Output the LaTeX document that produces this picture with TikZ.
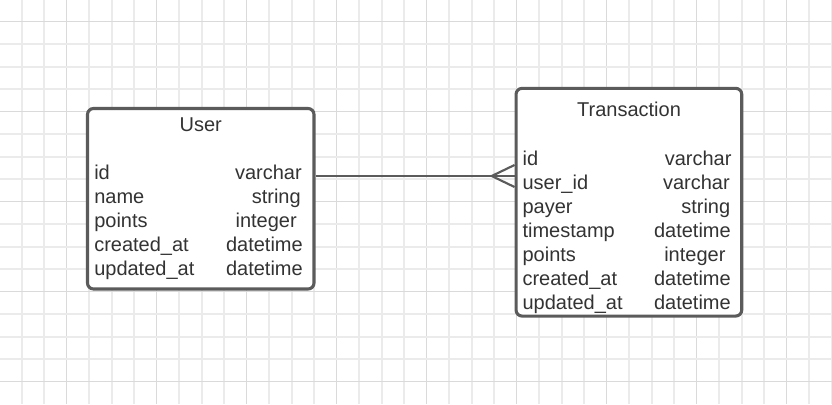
\documentclass[tikz,border=0pt]{standalone}
\usepackage{fontspec}
\setmainfont{Liberation Sans}
\definecolor{minorgrid}{HTML}{EBEBEB}
\definecolor{majorgrid}{HTML}{DADADA}
\definecolor{boxline}{HTML}{5B5B5B}
\definecolor{txt}{HTML}{333333}
\begin{document}
\begin{tikzpicture}[x=0.75pt,y=-0.75pt,
  tbl/.style={draw=boxline, line width=2.3pt, rounded corners=4.5pt, fill=white, inner sep=0pt},
  lbl/.style={inner sep=0pt, text=txt, font=\fontsize{15}{18}\selectfont},
  conn/.style={draw=boxline, line width=1.6pt}]
\useasboundingbox (0,0) rectangle (832,404);
\fill[white] (0,0) rectangle (832,404);
% grid
\foreach \k in {1,...,37} {
  \pgfmathsetmacro{\xx}{22.5*\k-0.8}
  \pgfmathtruncatemacro{\m}{mod(\k,4)}
  \ifnum\m=3
    \draw[majorgrid, line width=0.75pt] (\xx,0) -- (\xx,404);
  \else
    \draw[minorgrid, line width=1.2pt] (\xx,0) -- (\xx,404);
  \fi
}
\foreach \k in {1,...,17} {
  \pgfmathsetmacro{\yy}{22.5*\k-0.8}
  \pgfmathtruncatemacro{\m}{mod(\k,4)}
  \ifnum\m=1
    \draw[majorgrid, line width=0.75pt] (0,\yy) -- (832,\yy);
  \else
    \draw[minorgrid, line width=1.2pt] (0,\yy) -- (832,\yy);
  \fi
}
% boxes
\node[tbl, minimum width=226.5*0.75pt, minimum height=180.5*0.75pt] (user) at (200.75,198.75) {};
\node[tbl, minimum width=225.7*0.75pt, minimum height=227.7*0.75pt] (trans) at (628.9,202.2) {};
% connector
\coordinate (cf) at (491.7,176);
\draw[conn] (user.east |- cf) -- (trans.west |- cf);
\draw[conn] ([yshift=-11*0.75pt]trans.west |- cf) -- (cf) -- ([yshift=11*0.75pt]trans.west |- cf);
% User text
\node[lbl, anchor=base] (ut) at (200.8,131) {User};
\node[lbl, anchor=base west] (u1) at (94,179) {id};
\node[lbl, anchor=base west] (u2) at (94,203) {name};
\node[lbl, anchor=base west] (u3) at (94,227) {points};
\node[lbl, anchor=base west] (u4) at (94,251) {created\_at};
\node[lbl, anchor=base west] (u5) at (94,275) {updated\_at};
\node[lbl, anchor=base east] (v1) at (302,179) {varchar};
\node[lbl, anchor=base east] (v2) at (301,203) {string};
\node[lbl, anchor=base east] (v3) at (297,227) {integer};
\node[lbl, anchor=base east] (v4) at (303,251) {datetime};
\node[lbl, anchor=base east] (v5) at (303,275) {datetime};
% Transaction text
\node[lbl, anchor=base] (tt) at (629,116.7) {Transaction};
\node[lbl, anchor=base west] (t1) at (522.3,165) {id};
\node[lbl, anchor=base west] (t2) at (522.3,189) {user\_id};
\node[lbl, anchor=base west] (t3) at (522.3,213) {payer};
\node[lbl, anchor=base west] (t4) at (522.3,237) {timestamp};
\node[lbl, anchor=base west] (t5) at (522.3,261) {points};
\node[lbl, anchor=base west] (t6) at (522.3,285) {created\_at};
\node[lbl, anchor=base west] (t7) at (522.3,309) {updated\_at};
\node[lbl, anchor=base east] (w1) at (731.7,165) {varchar};
\node[lbl, anchor=base east] (w2) at (730,189) {varchar};
\node[lbl, anchor=base east] (w3) at (730.5,213) {string};
\node[lbl, anchor=base east] (w4) at (731,237) {datetime};
\node[lbl, anchor=base east] (w5) at (725.7,261) {integer};
\node[lbl, anchor=base east] (w6) at (731,285) {datetime};
\node[lbl, anchor=base east] (w7) at (731,309) {datetime};
\end{tikzpicture}
\end{document}
